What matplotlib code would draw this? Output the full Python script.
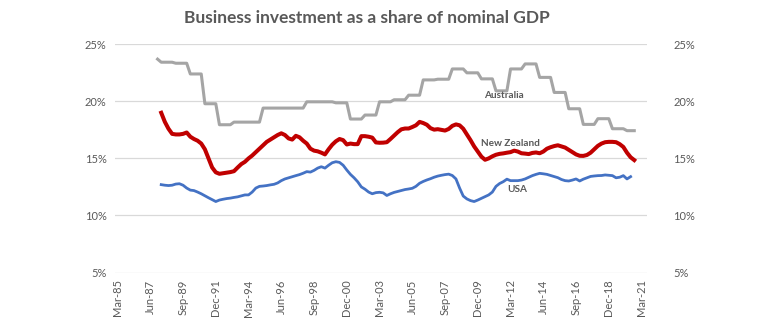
import numpy as np
import matplotlib
matplotlib.use('Agg')
import matplotlib.pyplot as plt

plt.rcParams['font.family'] = ['Lato', 'DejaVu Sans']

# ---- data (quarter index: 0 = Mar-85) ----
tick_labels = ['Mar-85', 'Jun-87', 'Sep-89', 'Dec-91', 'Mar-94', 'Jun-96', 'Sep-98',
               'Dec-00', 'Mar-03', 'Jun-05', 'Sep-07', 'Dec-09', 'Mar-12', 'Jun-14',
               'Sep-16', 'Dec-18', 'Mar-21']

start_q = 12  # Mar-88

# Australia: annual values, held for each quarter of the year (1988..2020)
aus_first = 23.7
aus_years = list(range(1988, 2021))
aus_annual = [23.43, 23.34, 22.4, 19.79, 17.95, 18.18, 18.18, 19.41, 19.41, 19.41,
              19.96, 19.96, 19.87, 18.45, 18.8, 19.96, 20.14, 20.54, 21.88, 21.94,
              22.84, 22.5, 21.97, 20.92, 22.84, 23.28, 22.1, 20.78, 19.35, 17.98,
              18.48, 17.6, 17.43]
aus_quarters_last = 3  # 2020 has Mar, Jun, Sep

nz = [19.0, 18.2, 17.6, 17.15, 17.1, 17.1, 17.15, 17.27, 16.9, 16.7,
      16.55, 16.3, 15.8, 15.0, 14.2, 13.78, 13.65, 13.7, 13.75, 13.8,
      13.88, 14.2, 14.5, 14.7, 15.0, 15.25, 15.55, 15.85, 16.15, 16.45,
      16.65, 16.85, 17.05, 17.2, 17.05, 16.75, 16.65, 16.98, 16.85, 16.55,
      16.3, 15.85, 15.68, 15.62, 15.5, 15.35, 15.8, 16.2, 16.5, 16.7,
      16.6, 16.22, 16.3, 16.25, 16.25, 16.95, 16.95, 16.9, 16.82, 16.4,
      16.37, 16.38, 16.42, 16.7, 17.0, 17.3, 17.55, 17.62, 17.62, 17.75,
      17.9, 18.2, 18.1, 17.95, 17.65, 17.52, 17.56, 17.5, 17.44, 17.58,
      17.85, 17.98, 17.9, 17.6, 17.1, 16.6, 16.05, 15.6, 15.15, 14.88,
      15.0, 15.18, 15.32, 15.4, 15.44, 15.5, 15.55, 15.68, 15.6, 15.45,
      15.42, 15.38, 15.48, 15.52, 15.45, 15.6, 15.85, 15.98, 16.08, 16.15,
      16.05, 15.95, 15.75, 15.55, 15.35, 15.23, 15.22, 15.3, 15.5, 15.8,
      16.1, 16.3, 16.42, 16.45, 16.45, 16.42, 16.25, 16.0, 15.5, 15.1,
      14.85]

usa = [12.7, 12.65, 12.62, 12.65, 12.75, 12.78, 12.65, 12.4, 12.22, 12.18,
       12.05, 11.9, 11.72, 11.55, 11.38, 11.22, 11.35, 11.42, 11.48, 11.52,
       11.58, 11.63, 11.72, 11.8, 11.8, 12.05, 12.4, 12.55, 12.58, 12.62,
       12.68, 12.73, 12.85, 13.05, 13.2, 13.3, 13.4, 13.49, 13.58, 13.7,
       13.84, 13.8, 13.95, 14.15, 14.27, 14.15, 14.4, 14.62, 14.71, 14.65,
       14.4, 13.98, 13.6, 13.3, 12.95, 12.5, 12.3, 12.05, 11.9, 12.0,
       12.03, 11.98, 11.75, 11.9, 12.02, 12.1, 12.18, 12.27, 12.32, 12.38,
       12.55, 12.82, 12.98, 13.11, 13.22, 13.35, 13.45, 13.52, 13.58, 13.62,
       13.5, 13.2, 12.4, 11.7, 11.45, 11.3, 11.22, 11.35, 11.5, 11.65,
       11.8, 12.05, 12.55, 12.8, 12.96, 13.18, 13.05, 13.05, 13.05, 13.1,
       13.2, 13.35, 13.49, 13.6, 13.69, 13.65, 13.6, 13.5, 13.4, 13.31,
       13.15, 13.05, 13.02, 13.1, 13.2, 13.02, 13.18, 13.3, 13.42, 13.46,
       13.49, 13.5, 13.55, 13.52, 13.49, 13.3, 13.35, 13.49, 13.2, 13.4]

# build quarterly Australia series from the annual values
aus = [aus_first] + list(np.repeat(aus_annual[:-1], 4)) + [aus_annual[-1]] * aus_quarters_last
aus_x = np.arange(start_q - 1, start_q - 1 + len(aus))
nz_x = np.arange(start_q, start_q + len(nz))
usa_x = np.arange(start_q, start_q + len(usa))

grey_txt = '#595959'

fig = plt.figure(figsize=(7.6, 3.25), dpi=100)
ax = fig.add_axes([115 / 760, 1 - 272.5 / 325, 532 / 760, (272.5 - 44.3) / 325])

ax.plot(aus_x, aus, color='#A5A5A5', linewidth=2.2, solid_joinstyle='round')
ax.plot(nz_x, nz, color='#C00000', linewidth=2.9, solid_joinstyle='round')
ax.plot(usa_x, usa, color='#4472C4', linewidth=2.0, solid_joinstyle='round')

ax.set_xlim(-0.7, 145.5)
ax.set_ylim(5, 25)
ax.set_xticks(np.arange(0, 145, 9))
ax.set_xticklabels(tick_labels, rotation=90, fontsize=8, color=grey_txt)
ax.set_yticks([5, 10, 15, 20, 25])
ax.set_yticklabels([f'{v}%' for v in [5, 10, 15, 20, 25]], fontsize=8, color=grey_txt)
ax.tick_params(axis='both', length=0)
ax.tick_params(axis='x', pad=5)
ax.tick_params(axis='y', pad=6)
ax.grid(axis='y', color='#D9D9D9', linewidth=0.9)
ax.set_axisbelow(True)
for s in ax.spines.values():
    s.set_visible(False)

# right-hand axis labels
ax2 = ax.twinx()
ax2.set_ylim(5, 25)
ax2.set_yticks([5, 10, 15, 20, 25])
ax2.set_yticklabels([f'{v}%' for v in [5, 10, 15, 20, 25]], fontsize=8, color=grey_txt)
ax2.tick_params(axis='y', length=0, pad=19)
for s in ax2.spines.values():
    s.set_visible(False)

# series labels
ax.text(106.2, 20.48, 'Australia', fontsize=7.2, fontweight='bold', color=grey_txt, ha='center', va='center')
ax.text(108.1, 16.28, 'New Zealand', fontsize=7.2, fontweight='bold', color=grey_txt, ha='center', va='center')
ax.text(109.8, 12.26, 'USA', fontsize=7.2, fontweight='bold', color=grey_txt, ha='center', va='center')

fig.text(367 / 760, 1 - 18 / 325, 'Business investment as a share of nominal GDP',
         fontsize=12.5, fontweight='bold', color=grey_txt, ha='center', va='center')

fig.savefig('out.png', dpi=100)
